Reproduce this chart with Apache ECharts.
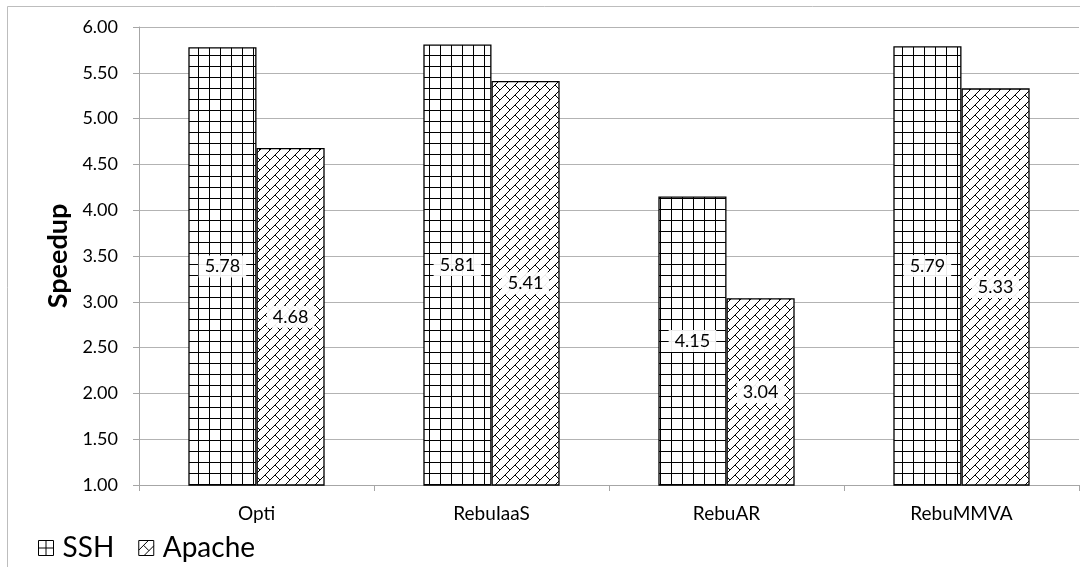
<!DOCTYPE html>
<html>
<head>
<meta charset="utf-8">
<script src="https://cdn.jsdelivr.net/npm/echarts@6/dist/echarts.min.js"></script>
<style>
html,body{margin:0;padding:0;background:#fff;}
#c{width:1080px;height:567px;}
</style>
</head>
<body>
<div id="c"></div>
<script>
const categories = ['Opti', 'RebuIaaS', 'RebuAR', 'RebuMMVA'];
const sshValues = [5.78, 5.81, 4.15, 5.79];
const apacheValues = [4.68, 5.41, 3.04, 5.33];
const seriesNames = ['SSH', 'Apache'];

function gridPattern() {
  const s = 11;
  const c = document.createElement('canvas');
  c.width = s; c.height = s;
  const g = c.getContext('2d');
  g.fillStyle = '#fff'; g.fillRect(0, 0, s, s);
  g.fillStyle = '#000';
  g.fillRect(0, 0, s, 1);
  g.fillRect(0, 0, 1, s);
  return c;
}
function brickPattern() {
  const s = 10;
  const c = document.createElement('canvas');
  c.width = s; c.height = s;
  const g = c.getContext('2d');
  g.fillStyle = '#fff'; g.fillRect(0, 0, s, s);
  g.fillStyle = '#000';
  for (let x = 0; x < s; x++) g.fillRect(x, s - 1 - x, 1, 1);
  for (let k = s / 2; k < s; k++) g.fillRect(k, k, 1, 1);
  return c;
}

const FONT = 'Lato, "Liberation Sans", sans-serif';
const chart = echarts.init(document.getElementById('c'), null, { renderer: 'canvas' });
const labelCfg = {
  show: true,
  position: 'inside',
  formatter: p => p.value.toFixed(2),
  color: '#000',
  fontFamily: FONT,
  fontSize: 18,
  backgroundColor: 'rgba(255,255,255,0.92)',
  padding: [3, 6, 1, 6]
};
const legendItemStyle = { color: '#fff', borderColor: '#000', borderWidth: 1 };
chart.setOption({
  animation: false,
  backgroundColor: '#fff',
  graphic: [{
    type: 'rect',
    shape: { x: 7.5, y: 6.5, width: 1100, height: 600 },
    style: { fill: 'none', stroke: '#bdbdbd', lineWidth: 1 },
    silent: true,
    z: -10
  }],
  grid: { left: 139, right: 1, top: 27, bottom: 82, containLabel: false },
  legend: {
    left: 33,
    top: 529,
    itemWidth: 15,
    itemHeight: 15,
    itemGap: 24,
    textStyle: { fontFamily: FONT, fontSize: 28, color: '#000', padding: [0, 0, 0, 4] },
    data: [
      { name: seriesNames[0], icon: 'path://M0,0H14V14H0Z M7,0V14 M0,7H14', itemStyle: legendItemStyle },
      { name: seriesNames[1], icon: 'path://M0,0H14V14H0Z M0,9L9,0 M5,14L14,5 M4.5,4.5L9.5,9.5', itemStyle: legendItemStyle }
    ]
  },
  xAxis: {
    type: 'category',
    data: categories,
    axisLine: { lineStyle: { color: '#a6a6a6', width: 1 } },
    axisTick: { show: true, length: 6, lineStyle: { color: '#a6a6a6' } },
    axisLabel: { color: '#000', fontFamily: FONT, fontSize: 19, margin: 19 }
  },
  yAxis: {
    type: 'value',
    min: 1,
    max: 6,
    interval: 0.5,
    name: 'Speedup',
    nameLocation: 'middle',
    nameGap: 64,
    nameTextStyle: { fontFamily: FONT, fontSize: 27, fontWeight: 'bold', color: '#000' },
    axisLine: { show: true, lineStyle: { color: '#a6a6a6', width: 1 } },
    axisTick: { show: true, length: 6, lineStyle: { color: '#a6a6a6' } },
    axisLabel: { color: '#000', fontFamily: FONT, fontSize: 18, margin: 21, formatter: v => v.toFixed(2) },
    splitLine: { show: true, lineStyle: { color: '#b3b3b3', width: 1 } }
  },
  series: [
    {
      name: seriesNames[0],
      type: 'bar',
      data: sshValues,
      barGap: '0%',
      barCategoryGap: '42%',
      itemStyle: { color: { image: gridPattern(), repeat: 'repeat' }, borderColor: '#000', borderWidth: 1.3 },
      label: labelCfg
    },
    {
      name: seriesNames[1],
      type: 'bar',
      data: apacheValues,
      barGap: '0%',
      barCategoryGap: '42%',
      itemStyle: { color: { image: brickPattern(), repeat: 'repeat' }, borderColor: '#000', borderWidth: 1.3 },
      label: labelCfg
    }
  ]
});
</script>
</body>
</html>
